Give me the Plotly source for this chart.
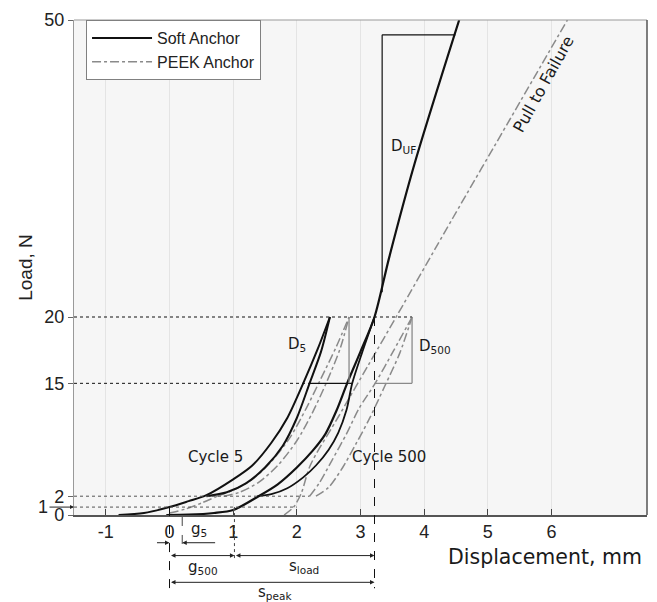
import plotly.graph_objects as go

# ---------------- data (schematic values) ----------------
X_TICKS = [-1, 0, 1, 2, 3, 4, 5, 6]
X_TICK_TEXT = ["-1", "0", "1", "2", "3", "4", "5", "6"]
Y_TICK_POS = [0, 1.9, 13.3, 20, 50]
Y_TICK_TEXT = ["0", "2", "15", "20", "50"]
Y_MAX = 50

# Soft anchor (black)
soft_c5_up_x = [-0.8, -0.4, 0.0, 0.3, 0.58, 1.0, 1.3, 1.6, 1.85, 2.1, 2.33, 2.52]
soft_c5_up_y = [0.0, 0.2, 0.8, 1.4, 2.0, 3.6, 5.0, 7.3, 9.8, 13.3, 16.8, 20.0]
soft_c5_dn_x = [0.58, 0.9, 1.2, 1.5, 1.78, 2.0, 2.2, 2.38, 2.52]
soft_c5_dn_y = [1.9, 2.3, 3.2, 4.8, 7.0, 9.8, 13.3, 16.5, 20.0]
soft_pull_x = [-0.05, 0.3, 0.7, 1.0, 1.4, 1.7, 2.0, 2.25, 2.45, 2.62, 2.79, 3.0, 3.22, 3.45, 3.85, 4.55]
soft_pull_y = [0.0, 0.03, 0.2, 0.5, 1.9, 3.1, 4.8, 6.5, 8.2, 10.5, 13.3, 16.5, 20.0, 26.0, 35.5, 50.0]
soft_c500_x = [1.38, 1.6, 1.85, 2.1, 2.3, 2.5, 2.65, 2.78, 2.87, 3.02, 3.22]
soft_c500_y = [1.9, 2.1, 2.7, 3.8, 5.0, 6.6, 8.3, 10.6, 13.3, 16.3, 20.0]

# PEEK anchor (grey dash-dot)
peek_init_x = [0.0, 0.25, 0.5, 0.75]
peek_init_y = [0.2, 0.6, 1.2, 1.9]
peek_c5_a_x = [0.75, 1.0, 1.3, 1.6, 1.9, 2.15, 2.38, 2.62, 2.82]
peek_c5_a_y = [1.9, 2.5, 3.6, 5.4, 7.9, 10.8, 13.8, 17.0, 20.0]
peek_c5_b_x = [0.85, 1.1, 1.4, 1.7, 2.0, 2.25, 2.48, 2.68, 2.82]
peek_c5_b_y = [1.9, 2.3, 3.3, 5.0, 7.5, 10.4, 13.6, 16.8, 20.0]
peek_c500_a_x = [2.2, 2.35, 2.55, 2.78, 2.98, 3.23, 3.52, 3.81]
peek_c500_a_y = [1.9, 3.2, 5.5, 8.2, 10.8, 13.3, 16.6, 20.0]
peek_c500_b_x = [2.3, 2.5, 2.72, 2.93, 3.13, 3.38, 3.62, 3.81]
peek_c500_b_y = [1.9, 2.8, 4.8, 7.2, 9.6, 13.0, 16.4, 20.0]
peek_pull_x = [1.8, 1.95, 2.07, 2.21, 2.66, 3.11, 3.56, 4.45, 5.35, 6.25]
peek_pull_y = [0.0, 0.8, 2.2, 5.0, 10.0, 15.0, 20.0, 30.0, 40.0, 50.0]

# reference levels / markers
LOAD_PEAK = 20.0
LOAD_15 = 13.3
LOAD_2 = 1.9
LOAD_1 = 0.8
X_LEFT = -1.5
X_RIGHT = 7.5
D5_X0, D5_X1, D5_XG = 2.2, 2.87, 2.82
D500_X0, D500_X1 = 3.22, 3.81
DOT2_END = 2.2
DOT1_END = 2.0
DUF_X0, DUF_X1 = 3.34, 4.49
DUF_Y0, DUF_Y1 = 22.5, 48.5
G5_X = 0.2
G500_X = 1.02
SPEAK_X = 3.22

BLACK = "#111111"
GREY = "#8a8a8a"

fig = go.Figure()

def soft(x, y, show=False, width=2):
    fig.add_trace(go.Scatter(x=x, y=y, mode="lines", name="Soft Anchor",
                             legendgroup="soft", showlegend=show,
                             line=dict(color=BLACK, width=width, shape="spline", smoothing=0.8)))

def peek(x, y, show=False):
    fig.add_trace(go.Scatter(x=x, y=y, mode="lines", name="PEEK Anchor",
                             legendgroup="peek", showlegend=show,
                             line=dict(color=GREY, width=1.5, dash="dashdot", shape="spline", smoothing=0.8)))

peek(peek_init_x, peek_init_y, show=False)
peek(peek_c5_a_x, peek_c5_a_y)
peek(peek_c5_b_x, peek_c5_b_y)
peek(peek_c500_a_x, peek_c500_a_y)
peek(peek_c500_b_x, peek_c500_b_y)
peek(peek_pull_x, peek_pull_y, show=True)
soft(soft_c5_up_x, soft_c5_up_y, show=True)
soft(soft_c5_dn_x, soft_c5_dn_y)
soft(soft_pull_x, soft_pull_y, width=2.2)
soft(soft_c500_x, soft_c500_y, width=1.8)

shapes = []
def seg(x0, y0, x1, y1, color=BLACK, width=1, dash="solid", yref="y"):
    shapes.append(dict(type="line", xref="x", yref=yref, x0=x0, y0=y0, x1=x1, y1=y1,
                       line=dict(color=color, width=width, dash=dash)))

# dotted level lines
seg(X_LEFT, LOAD_PEAK, D500_X1, LOAD_PEAK, dash="dot")
seg(X_LEFT, LOAD_15, D5_X0, LOAD_15, dash="dot")
seg(X_LEFT, LOAD_2, DOT2_END, LOAD_2, color="#555555", dash="dot")
seg(X_LEFT, LOAD_1, DOT1_END, LOAD_1, color="#555555", dash="dot")
# D5 / D500 triangles
seg(D5_X0, LOAD_15, D5_X1, LOAD_15, width=1.3)
seg(D5_XG, LOAD_15, D5_XG, LOAD_PEAK, color=GREY, width=1.3)
seg(D500_X0, LOAD_15, D500_X1, LOAD_15, color=GREY, width=1.3)
seg(D500_X1, LOAD_15, D500_X1, LOAD_PEAK, color=GREY, width=1.3)
# D_UF box
seg(DUF_X0, DUF_Y0, DUF_X0, DUF_Y1, width=1.2)
seg(DUF_X0, DUF_Y1, DUF_X1, DUF_Y1, width=1.2)

# dimension lines below the axis (paper y)
P_G5 = -0.056
P_ROW2 = -0.082
P_ROW3 = -0.136
P_BOTTOM = -0.148
seg(0, LOAD_1 / Y_MAX, 0, P_BOTTOM, dash="dash", yref="paper")
seg(SPEAK_X, LOAD_PEAK / Y_MAX, SPEAK_X, P_BOTTOM, dash="dash", yref="paper")
seg(G5_X, -0.004, G5_X, -0.068, color="#444444", dash="dash", yref="paper")
seg(G500_X, LOAD_1 / Y_MAX, G500_X, -0.092, color="#444444", dash="dot", yref="paper")

# frame (top light, right dark)
shapes.append(dict(type="line", xref="paper", yref="paper", x0=0, y0=1, x1=1, y1=1,
                   line=dict(color="#9a9a9a", width=1.2)))
shapes.append(dict(type="line", xref="paper", yref="paper", x0=1, y0=0, x1=1, y1=1,
                   line=dict(color="#555555", width=1.5)))

annotations = []
def arrow(x_from, x_to, yp, both=False):
    annotations.append(dict(x=x_to, y=yp, xref="x", yref="paper",
                            ax=x_from, ay=0, axref="x", ayref="pixel",
                            text="", showarrow=True, arrowhead=2, arrowsize=0.9,
                            arrowwidth=1, arrowcolor="#222222", standoff=0, startstandoff=0,
                            arrowside="end+start" if both else "end"))

arrow(-0.22, 0, P_G5)
arrow(0.74, G5_X, P_G5)
arrow(0, G500_X, P_ROW2, both=True)
arrow(G500_X, SPEAK_X, P_ROW2, both=True)
arrow(0, SPEAK_X, P_ROW3, both=True)

LBL_FONT = dict(family="DejaVu Sans, Verdana, sans-serif", size=15, color="#1a1a1a")

def label(text, x, y, yref="y", size=15, angle=0):
    f = dict(LBL_FONT)
    f["size"] = size
    annotations.append(dict(text=text, x=x, y=y, xref="x", yref=yref, showarrow=False,
                            font=f, textangle=angle))

label("D<sub>5</sub>", 2.0, 17.2)
label("D<sub>500</sub>", 4.17, 17.0)
label("D<sub>UF</sub>", 3.67, 37.2)
label("Cycle 5", 0.73, 5.9)
label("Cycle 500", 3.44, 5.9)
label("Pull to Failure", 5.87, 43.5, size=16, angle=-61)
label("g<sub>5</sub>", 0.47, -0.052, yref="paper")
label("g<sub>500</sub>", 0.52, -0.13, yref="paper")
label("s<sub>load</sub>", 2.12, -0.128, yref="paper")
label("s<sub>peak</sub>", 1.65, -0.18, yref="paper")

# "1" tick with arrow
annotations.append(dict(text="1", x=0, y=LOAD_1, xref="paper", yref="y",
                        ax=-31, ay=0, showarrow=True, arrowhead=2, arrowsize=0.8,
                        arrowwidth=1, arrowcolor="#222222", standoff=0,
                        font=dict(family="Liberation Sans, Arial, sans-serif", size=18, color="#222222")))

# x-axis title (right aligned)
annotations.append(dict(text="Displacement, mm", x=0.995, y=-0.085, xref="paper", yref="paper",
                        xanchor="right", yanchor="middle", showarrow=False,
                        font=dict(family="DejaVu Sans, Verdana, sans-serif", size=20.5, color="#1a1a1a")))

fig.update_layout(
    width=657, height=602,
    margin=dict(l=74, r=10, t=16, b=87),
    paper_bgcolor="white",
    plot_bgcolor="#f6f6f6",
    shapes=shapes,
    annotations=annotations,
    font=dict(family="Liberation Sans, Arial, sans-serif", size=18, color="#222222"),
    legend=dict(x=0.021, y=1.0, xanchor="left", yanchor="top",
                bgcolor="white", bordercolor="#808080", borderwidth=1,
                font=dict(family="Liberation Sans, Arial, sans-serif", size=16, color="#222222"),
                traceorder="reversed", tracegroupgap=0, itemwidth=60),
    showlegend=True,
)
fig.update_xaxes(range=[X_LEFT, X_RIGHT], tickvals=X_TICKS, ticktext=X_TICK_TEXT,
                 ticks="inside", ticklen=6,
                 tickcolor="#444444", showgrid=True, gridcolor="#e4e4e4", gridwidth=1,
                 showline=True, linecolor="#555555", linewidth=1.5, zeroline=False,
                 tickfont=dict(size=18))
fig.update_yaxes(range=[0, Y_MAX], tickvals=Y_TICK_POS, ticktext=Y_TICK_TEXT,
                 ticks="outside", ticklen=5, tickcolor="#666666",
                 showgrid=False, zeroline=False, showline=True, linecolor="#9a9a9a",
                 linewidth=1.2, tickfont=dict(size=18),
                 title=dict(text="Load, N", font=dict(size=19), standoff=6))

fig.write_html("out.html")
